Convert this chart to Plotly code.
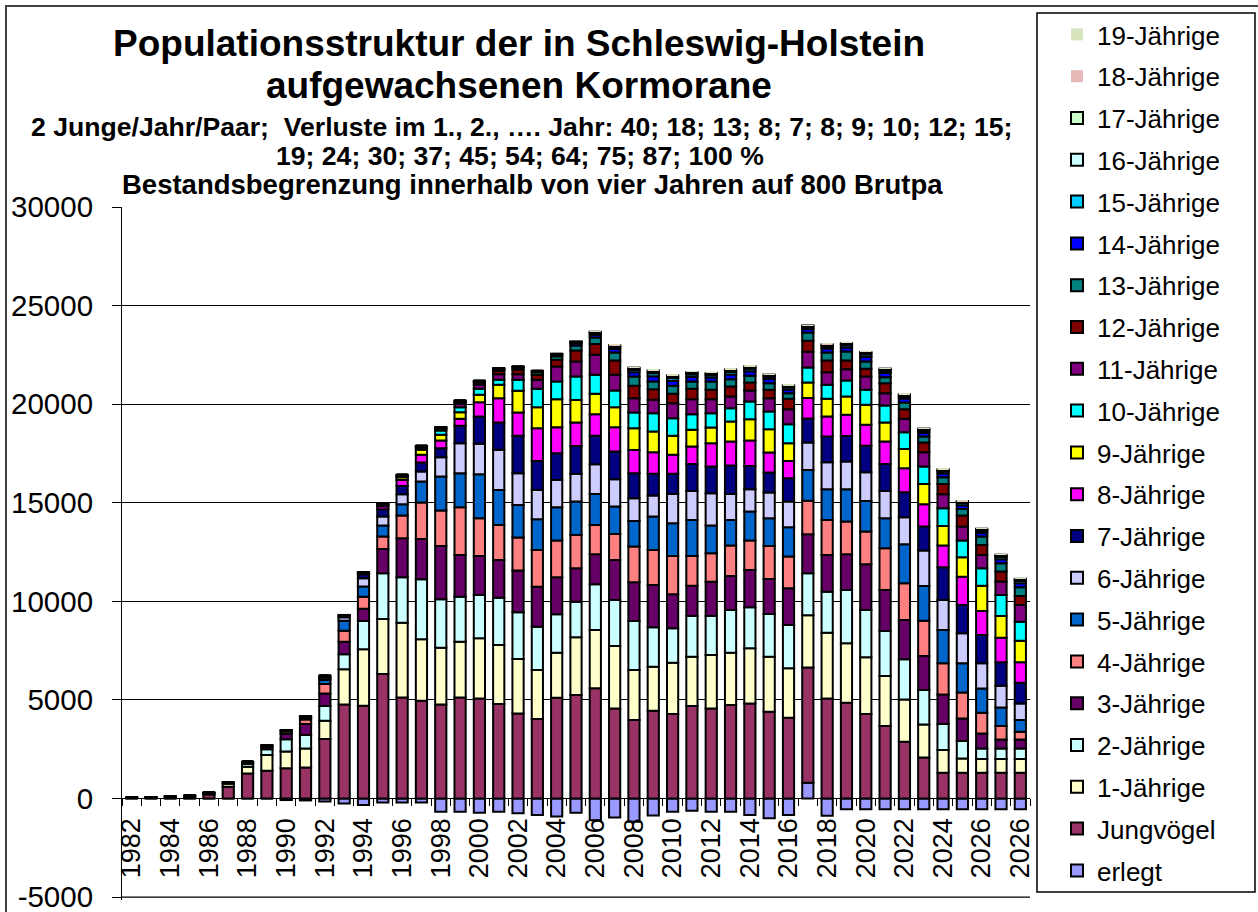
import plotly.graph_objects as go

# Category labels (the original axis shows "2026" twice at the end)
years = ["1982", "1983", "1984", "1985", "1986", "1987", "1988", "1989", "1990", "1991",
         "1992", "1993", "1994", "1995", "1996", "1997", "1998", "1999", "2000", "2001",
         "2002", "2003", "2004", "2005", "2006", "2007", "2008", "2009", "2010", "2011",
         "2012", "2013", "2014", "2015", "2016", "2017", "2018", "2019", "2020", "2021",
         "2022", "2023", "2024", "2025", "2026", "2025", "2026"]

erlegt = [0, 0, 0, 0, 0, 0, 0, 0, -80, -100,
          -150, -250, -330, -210, -200, -200, -670, -670, -720, -670,
          -750, -840, -920, -720, -1100, -970, -1180, -870, -670, -620,
          -670, -670, -840, -1000, -840, 800, -880, -550, -550, -550,
          -550, -550, -550, -550, -550, -550, -550]
jungvoegel = [45, 50, 80, 90, 200, 600, 1270, 1400, 1530, 1573,
              3012, 4772, 4704, 6311, 5127, 4958, 4772, 5127, 5076, 4788,
              4315, 4027, 5110, 5245, 5584, 4568, 3976, 4450, 4281, 4687,
              4568, 4738, 4822, 4399, 4095, 5837, 5076, 4856, 4281, 3672,
              2876, 2081, 1303, 1303, 1303, 1303, 1303]
j1 = [15, 15, 25, 35, 60, 150, 340, 800, 846, 965,
      930, 1777, 2860, 2792, 3790, 3113, 2876, 2826, 3046, 2995,
      2758, 2487, 2284, 2927, 2961, 3164, 2538, 2233, 2606, 2504,
      2707, 2656, 2792, 2792, 2504, 2656, 3333, 3012, 2876, 2538,
      2149, 1675, 1150, 728, 694, 694, 694]
j2 = [0, 5, 10, 15, 25, 50, 150, 290, 626, 677,
      744, 761, 1438, 2318, 2301, 3046, 2453, 2284, 2200, 2403,
      2369, 2200, 1946, 1810, 2318, 2335, 2487, 1997, 1743, 2064,
      1980, 2166, 2081, 2166, 2200, 2132, 2081, 2707, 2403, 2284,
      2030, 1743, 1320, 880, 541, 541, 541]
j3 = [0, 0, 0, 5, 10, 20, 60, 130, 270, 558,
      643, 643, 626, 1235, 1980, 2047, 2707, 2115, 1980, 1912,
      2115, 2030, 1878, 1692, 1523, 2030, 1963, 2149, 1726, 1540,
      1743, 1726, 1895, 1777, 1861, 1980, 1861, 1810, 2318, 2081,
      1997, 1726, 1506, 1150, 761, 457, 457]
j4 = [0, 0, 0, 0, 0, 0, 40, 60, 120, 237,
      474, 558, 609, 626, 1150, 1844, 1793, 2419, 1912, 1777,
      1675, 1861, 1861, 1692, 1489, 1320, 1810, 1777, 1946, 1506,
      1438, 1540, 1489, 1675, 1607, 1692, 1777, 1658, 1658, 2115,
      1861, 1793, 1574, 1320, 1049, 677, 389]
j5 = [0, 0, 0, 0, 0, 0, 0, 30, 50, 100,
      203, 508, 508, 558, 575, 1066, 1726, 1726, 2233, 1777,
      1658, 1557, 1692, 1692, 1574, 1387, 1303, 1692, 1658, 1827,
      1404, 1303, 1472, 1404, 1489, 1557, 1557, 1641, 1557, 1523,
      1980, 1760, 1692, 1472, 1235, 948, 592]
j6 = [0, 0, 0, 0, 0, 0, 0, 0, 30, 45,
      120, 169, 423, 457, 508, 508, 981, 1523, 1540, 2030,
      1607, 1489, 1387, 1404, 1506, 1387, 1150, 1066, 1489, 1472,
      1641, 1320, 1134, 1303, 1303, 1404, 1370, 1404, 1455, 1387,
      1370, 1793, 1523, 1523, 1269, 1100, 846]
j7 = [0, 0, 0, 0, 0, 0, 0, 0, 0, 25,
      60, 70, 200, 372, 423, 457, 457, 880, 1387, 1387,
      1895, 1472, 1354, 1421, 1438, 1404, 1269, 1100, 1015, 1370,
      1354, 1438, 1184, 1015, 1184, 1218, 1303, 1303, 1337, 1370,
      1269, 1218, 1658, 1438, 1438, 1184, 1049]
j8 = [0, 0, 0, 0, 0, 0, 0, 0, 0, 0,
      40, 30, 60, 150, 305, 389, 389, 355, 728, 1235,
      1184, 1658, 1320, 1184, 1100, 1235, 1184, 1100, 964, 880,
      1184, 1218, 1286, 1015, 880, 1032, 1015, 1066, 1066, 1134,
      1218, 1134, 1100, 1438, 1218, 1252, 1032]
j9 = [0, 0, 0, 0, 0, 0, 0, 0, 0, 0,
      0, 20, 30, 80, 130, 254, 288, 338, 372, 677,
      1100, 1066, 1421, 1150, 1032, 1015, 1100, 1049, 964, 846,
      795, 1015, 1083, 1184, 897, 795, 897, 931, 1015, 964,
      981, 1032, 998, 981, 1286, 1100, 1100]
j10 = [0, 0, 0, 0, 0, 0, 0, 0, 0, 0,
       0, 0, 15, 50, 70, 110, 220, 254, 305, 254,
       558, 931, 897, 1184, 964, 846, 795, 931, 897, 795,
       728, 677, 897, 897, 964, 761, 711, 812, 761, 863,
       846, 880, 897, 846, 880, 1066, 964]
j11 = [0, 0, 0, 0, 0, 0, 0, 0, 0, 0,
       0, 0, 0, 25, 35, 55, 90, 180, 220, 288,
       288, 457, 761, 761, 1015, 795, 728, 677, 761, 761,
       711, 592, 558, 677, 761, 795, 643, 575, 677, 626,
       677, 728, 711, 711, 677, 677, 846]
j12 = [0, 0, 0, 0, 0, 0, 0, 0, 0, 0,
       0, 0, 0, 0, 19, 25, 45, 90, 110, 170,
       230, 250, 338, 558, 541, 728, 626, 541, 474, 524,
       474, 508, 406, 423, 524, 558, 592, 440, 389, 508,
       491, 491, 524, 558, 508, 508, 457]
j13 = [0, 0, 0, 0, 0, 0, 0, 0, 0, 0,
       0, 0, 0, 0, 0, 13, 22, 45, 50, 80,
       100, 130, 180, 250, 338, 406, 474, 389, 406, 372,
       423, 372, 338, 338, 288, 423, 406, 457, 372, 305,
       338, 305, 338, 338, 423, 423, 440]
j14 = [0, 0, 0, 0, 0, 0, 0, 0, 0, 0,
       0, 0, 0, 0, 0, 0, 12, 23, 26, 35,
       40, 50, 80, 120, 140, 175, 215, 265, 250, 230,
       205, 235, 230, 205, 190, 168, 198, 205, 230, 205,
       198, 190, 190, 190, 190, 205, 205]
j15 = [0, 0, 0, 0, 0, 0, 0, 0, 0, 0,
       0, 0, 0, 0, 0, 0, 0, 0, 0, 20,
       19, 27, 30, 55, 75, 95, 120, 150, 140, 127,
       115, 130, 127, 115, 105, 93, 110, 115, 127, 115,
       110, 105, 105, 105, 105, 115, 115]
j16 = [0, 0, 0, 0, 0, 0, 0, 0, 0, 0,
       0, 0, 0, 0, 0, 0, 0, 0, 0, 0,
       0, 0, 15, 25, 45, 60, 70, 90, 85, 76,
       68, 80, 76, 68, 64, 56, 66, 68, 76, 68,
       66, 64, 64, 64, 64, 68, 68]
j17 = [0, 0, 0, 0, 0, 0, 0, 0, 0, 0,
       0, 0, 0, 0, 0, 0, 0, 0, 0, 0,
       0, 0, 0, 7, 30, 40, 45, 57, 55, 50,
       45, 52, 50, 45, 42, 37, 44, 45, 50, 45,
       44, 42, 42, 42, 42, 45, 45]
j18 = [0, 0, 0, 0, 0, 0, 0, 0, 0, 0,
       0, 0, 0, 0, 0, 0, 0, 0, 0, 0,
       0, 0, 0, 0, 10, 12, 15, 18, 17, 15,
       14, 16, 15, 14, 13, 11, 13, 14, 15, 14,
       13, 13, 13, 13, 13, 14, 14]
j19 = [0, 0, 0, 0, 0, 0, 0, 0, 0, 0,
       0, 0, 0, 0, 0, 0, 0, 0, 0, 0,
       0, 0, 0, 0, 5, 7, 9, 12, 11, 10,
       10, 11, 10, 10, 9, 7, 9, 10, 10, 10,
       9, 9, 9, 9, 9, 10, 10]

series = [
    ("erlegt", erlegt, "#9999FF"),
    ("Jungvögel", jungvoegel, "#993366"),
    ("1-Jährige", j1, "#FFFFCC"),
    ("2-Jährige", j2, "#CCFFFF"),
    ("3-Jährige", j3, "#660066"),
    ("4-Jährige", j4, "#FF8080"),
    ("5-Jährige", j5, "#0066CC"),
    ("6-Jährige", j6, "#CCCCFF"),
    ("7-Jährige", j7, "#000080"),
    ("8-Jährige", j8, "#FF00FF"),
    ("9-Jährige", j9, "#FFFF00"),
    ("10-Jährige", j10, "#00FFFF"),
    ("11-Jährige", j11, "#800080"),
    ("12-Jährige", j12, "#800000"),
    ("13-Jährige", j13, "#008080"),
    ("14-Jährige", j14, "#0000FF"),
    ("15-Jährige", j15, "#00CCFF"),
    ("16-Jährige", j16, "#CCFFFF"),
    ("17-Jährige", j17, "#CCFFCC"),
    ("18-Jährige", j18, "#E6B9B8"),
    ("19-Jährige", j19, "#D7E4BD"),
]

y_ticks = [-5000, 0, 5000, 10000, 15000, 20000, 25000, 30000]
y_ticktext = ["-5000", "0", "5000", "10000", "15000", "20000", "25000", "30000"]

pos = list(range(len(years)))

FONT = "Liberation Sans, Arial, sans-serif"

fig = go.Figure()
for i, (name, vals, col) in enumerate(series):
    no_border = name in ("18-Jährige", "19-Jährige")
    fig.add_trace(go.Bar(
        x=pos, y=vals, name=name, legendgroup=name,
        legendrank=1000 - i,
        marker=dict(color=col,
                    line=dict(color="black", width=0 if no_border else 2)),
    ))

# Pixel layout: plot area 122..1030 x 207..900 (value -5000 sits at ~897 px)
Y_MIN, Y_MAX = -5150, 30000
L, R, T = 122, 1030, 207
B = 900
W, H = R - L, B - T
X_RANGE = [-0.5, len(years) - 0.5]


def px(x):
    return (x - L) / W


def py(y):
    return (B - y) / H


fig.update_layout(
    width=1258, height=912,
    margin=dict(l=L, r=1258 - R, t=T, b=912 - B, autoexpand=False),
    paper_bgcolor="white", plot_bgcolor="white",
    barmode="relative", bargap=0.42,
    font=dict(family=FONT, color="black"),
    showlegend=True,
    legend=dict(
        x=px(1057), y=py(11), xanchor="left", yanchor="top",
        traceorder="grouped", tracegroupgap=5,
        maxheight=905,
        font=dict(size=26, family=FONT, color="black"),
        bgcolor="rgba(0,0,0,0)", borderwidth=0,
    ),
    xaxis=dict(
        range=X_RANGE,
        tickmode="array", tickvals=pos[::2], ticktext=years[::2],
        tickangle=-90, tickfont=dict(size=27, family=FONT, color="black"),
        ticks="", ticklabelstandoff=8,
        minor=dict(ticks="outside", tick0=-0.5, dtick=1, ticklen=7,
                   tickcolor="black", tickwidth=1, showgrid=False),
        showline=True, linecolor="black", linewidth=1,
        showgrid=False, zeroline=False,
        anchor="free", position=(0 - Y_MIN) / (Y_MAX - Y_MIN),
    ),
    yaxis=dict(
        range=[Y_MIN, Y_MAX],
        tickmode="array", tickvals=y_ticks, ticktext=y_ticktext,
        tickfont=dict(size=29.5, family=FONT, color="black"),
        ticks="outside", ticklen=9, tickcolor="black", tickwidth=1,
        ticklabelstandoff=13, ticklabeloverflow="allow",
        showline=True, linecolor="black", linewidth=1,
        showgrid=True, gridcolor="black", gridwidth=1,
        zeroline=False,
    ),
)

# The lowest gridline (at the first y tick) is not drawn by plotly here; add it
fig.add_shape(type="line", xref="x", yref="y",
              x0=X_RANGE[0], x1=X_RANGE[1], y0=y_ticks[0], y1=y_ticks[0],
              line=dict(color="#555555", width=1.5), layer="above")

# Titles
title_lines = [
    ("<b>Populationsstruktur der in Schleswig-Holstein</b>", 37, 519, 43, "center"),
    ("<b>aufgewachsenen Kormorane</b>", 37, 519, 85, "center"),
    ("<b>2 Junge/Jahr/Paar;\u00a0 Verluste im 1., 2., …. Jahr: 40; 18; 13; 8; 7; 8; 9; 10; 12; 15;</b>", 26.6, 521, 127, "center"),
    ("<b>19; 24; 30; 37; 45; 54; 64; 75; 87; 100 %</b>", 26.6, 520, 156, "center"),
    ("<b>Bestandsbegrenzung innerhalb von vier Jahren auf 800 Brutpa</b>", 27.5, 120, 185, "left"),
]
for text, size, x, y, anchor in title_lines:
    fig.add_annotation(
        text=text, x=px(x), y=py(y), xref="paper", yref="paper",
        xanchor=anchor, yanchor="middle", showarrow=False,
        font=dict(size=size, family=FONT, color="black"),
    )

# Legend frame and outer chart frame
fig.add_shape(type="rect", xref="paper", yref="paper",
              x0=px(1037), x1=px(1255), y0=py(892), y1=py(13),
              line=dict(color="black", width=1.5), fillcolor="rgba(0,0,0,0)", layer="below")
fig.add_shape(type="rect", xref="paper", yref="paper",
              x0=px(6), x1=px(1264), y0=py(918), y1=py(6),
              line=dict(color="#404040", width=2), fillcolor="rgba(0,0,0,0)", layer="below")

fig.write_html("out.html", config={"displayModeBar": False},
               post_script="document.body.style.margin='0';")
